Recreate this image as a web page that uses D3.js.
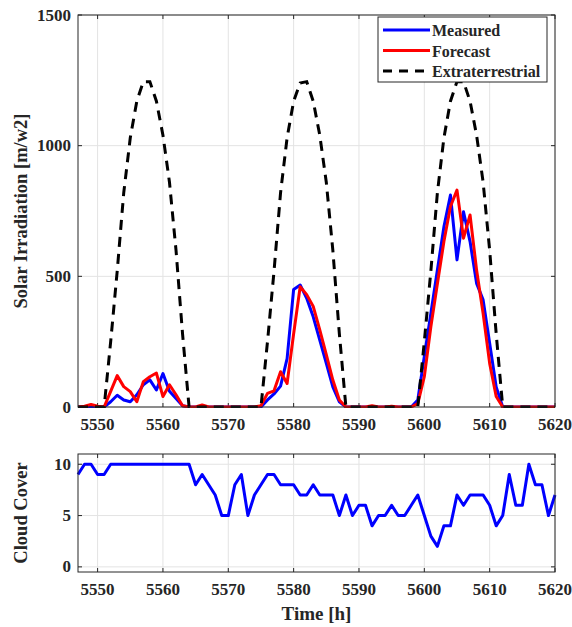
<!DOCTYPE html>
<html>
<head>
    <meta charset="utf-8">
    <style>
        body {
            margin: 0;
            background: white;
        }
        svg {
            display: block;
            font-family: 'Liberation Serif', 'Times New Roman', serif;
            font-weight: bold;
        }
        .grid line {
            stroke: #e3e3e3;
            stroke-width: 1;
        }
    </style>
</head>
<body>
    <svg width="572" height="627"></svg>
</body>
<script src="https://cdn.jsdelivr.net/npm/d3@7"></script>
<script>
    // hourly samples, 5547 .. 5620
    let hours = [5547, 5548, 5549, 5550, 5551, 5552, 5553, 5554, 5555, 5556, 5557, 5558, 5559, 5560,
        5561, 5562, 5563, 5564, 5565, 5566, 5567, 5568, 5569, 5570, 5571, 5572, 5573, 5574,
        5575, 5576, 5577, 5578, 5579, 5580, 5581, 5582, 5583, 5584, 5585, 5586, 5587, 5588,
        5589, 5590, 5591, 5592, 5593, 5594, 5595, 5596, 5597, 5598, 5599, 5600, 5601, 5602,
        5603, 5604, 5605, 5606, 5607, 5608, 5609, 5610, 5611, 5612, 5613, 5614, 5615, 5616,
        5617, 5618, 5619, 5620]

    let measured = [0, 0, 0, 0, 0, 20, 45, 27, 20, 47, 85, 104, 65, 128,
        60, 33, 5, 0, 0, 0, 0, 0, 0, 0, 0, 0, 0, 0,
        0, 27, 50, 80, 185, 450, 467, 416, 345, 256, 167, 77, 20, 0,
        0, 0, 0, 0, 0, 0, 0, 0, 0, 0, 27, 193, 358, 524,
        690, 811, 563, 747, 633, 473, 410, 244, 77, 0, 0, 0, 0, 0,
        0, 0, 0, 0]

    let forecast = [0, 3, 10, 3, 0, 60, 120, 78, 59, 20, 97, 116, 130, 40,
        85, 47, 5, 0, 0, 8, 0, 0, 0, 0, 0, 0, 0, 0,
        5, 52, 62, 135, 90, 280, 460, 430, 385, 295, 200, 103, 27, 0,
        0, 0, 0, 5, 0, 0, 3, 0, 0, 0, 13, 116, 307, 472,
        633, 767, 830, 646, 735, 524, 358, 167, 40, 0, 0, 0, 0, 0,
        0, 0, 0, 0]

    let extraterrestrial = [0, 0, 0, 0, 0, 250, 520, 820, 1030, 1170, 1245, 1245, 1170, 1040,
        860, 600, 280, 0, 0, 0, 0, 0, 0, 0, 0, 0, 0, 0,
        0, 250, 520, 820, 1030, 1170, 1240, 1245, 1170, 1040, 860, 600, 280, 0,
        0, 0, 0, 0, 0, 0, 0, 0, 0, 0, 0, 250, 520, 820,
        1030, 1170, 1245, 1245, 1170, 1040, 860, 600, 280, 0, 0, 0, 0, 0,
        0, 0, 0, 0]

    let cloudCover = [9, 10, 10, 9, 9, 10, 10, 10, 10, 10, 10, 10, 10, 10,
        10, 10, 10, 10, 8, 9, 8, 7, 5, 5, 8, 9, 5, 7,
        8, 9, 9, 8, 8, 8, 7, 7, 8, 7, 7, 7, 5, 7,
        5, 6, 6, 4, 5, 5, 6, 5, 5, 6, 7, 5, 3, 2,
        4, 4, 7, 6, 7, 7, 7, 6, 4, 5, 9, 6, 6, 10,
        8, 8, 5, 7]

    let xTicks = [5550, 5560, 5570, 5580, 5590, 5600, 5610, 5620]
    let irrTicks = [0, 500, 1000, 1500]
    let cloudTicks = [0, 5, 10]

    let seriesNames = ["Measured", "Forecast", "Extraterrestrial"]
    let seriesColors = ["#0000ff", "#ff0000", "#000000"]

    let svg = d3.select("svg")
    let left = 78, right = 555

    let x = d3.scaleLinear().domain([5547, 5620]).range([left, right])
    let yTop = d3.scaleLinear().domain([0, 1500]).range([407, 15])
    let yBot = d3.scaleLinear().domain([-0.5, 11]).range([572, 454])

    function panel(y, yTickVals, label) {
        let [y0, y1] = y.range()
        let g = svg.append("g")

        // grid
        g.append("g").attr("class", "grid")
            .selectAll("line").data(xTicks).join("line")
            .attr("x1", d => x(d)).attr("x2", d => x(d))
            .attr("y1", y1).attr("y2", y0)
        g.append("g").attr("class", "grid")
            .selectAll("line").data(yTickVals).join("line")
            .attr("x1", left).attr("x2", right)
            .attr("y1", d => y(d)).attr("y2", d => y(d))

        // inward ticks on all four sides
        let tk = 4
        let tickG = g.append("g").attr("stroke", "#262626").attr("stroke-width", 1)
        xTicks.forEach(t => {
            tickG.append("line").attr("x1", x(t)).attr("x2", x(t)).attr("y1", y0).attr("y2", y0 - tk)
            tickG.append("line").attr("x1", x(t)).attr("x2", x(t)).attr("y1", y1).attr("y2", y1 + tk)
        })
        yTickVals.forEach(t => {
            tickG.append("line").attr("x1", left).attr("x2", left + tk).attr("y1", y(t)).attr("y2", y(t))
            tickG.append("line").attr("x1", right).attr("x2", right - tk).attr("y1", y(t)).attr("y2", y(t))
        })

        g.append("g").selectAll("text").data(xTicks).join("text")
            .attr("x", d => x(d))
            .attr("y", y0 + 23)
            .attr("text-anchor", "middle")
            .attr("font-size", 17)
            .attr("fill", "#262626")
            .text(d => d)

        g.append("g").selectAll("text").data(yTickVals).join("text")
            .attr("x", left - 7)
            .attr("y", d => y(d) + 5.5)
            .attr("text-anchor", "end")
            .attr("font-size", 17)
            .attr("fill", "#262626")
            .text(d => d)

        g.append("text")
            .attr("transform", `translate(27,${(y0 + y1) / 2}) rotate(-90)`)
            .attr("text-anchor", "middle")
            .attr("font-size", 18.5)
            .attr("fill", "#262626")
            .text(label)

        return g
    }

    panel(yTop, irrTicks, "Solar Irradiation [m/w2]")
    panel(yBot, cloudTicks, "Cloud Cover")

    svg.append("clipPath").attr("id", "clipTop")
        .append("rect").attr("x", left).attr("y", 14).attr("width", right - left).attr("height", 394)

    let lineTop = d3.line()
        .x((d, i) => x(hours[i]))
        .y(d => yTop(d))

    let lines = svg.append("g").attr("clip-path", "url(#clipTop)")
    lines.append("path")
        .attr("d", lineTop(measured))
        .attr("fill", "none")
        .attr("stroke", seriesColors[0])
        .attr("stroke-width", 3)
        .attr("stroke-linejoin", "round")
    lines.append("path")
        .attr("d", lineTop(forecast))
        .attr("fill", "none")
        .attr("stroke", seriesColors[1])
        .attr("stroke-width", 3)
        .attr("stroke-linejoin", "round")
    lines.append("path")
        .attr("d", lineTop(extraterrestrial))
        .attr("fill", "none")
        .attr("stroke", seriesColors[2])
        .attr("stroke-width", 3)
        .attr("stroke-dasharray", "10,7")

    let lineBot = d3.line()
        .x((d, i) => x(hours[i]))
        .y(d => yBot(d))

    svg.append("path")
        .attr("d", lineBot(cloudCover))
        .attr("fill", "none")
        .attr("stroke", "#0000ff")
        .attr("stroke-width", 3)
        .attr("stroke-linejoin", "round")

    // axes boxes
    svg.append("rect")
        .attr("x", left).attr("y", yTop.range()[1])
        .attr("width", right - left).attr("height", yTop.range()[0] - yTop.range()[1])
        .attr("fill", "none").attr("stroke", "#262626").attr("stroke-width", 1)
    svg.append("rect")
        .attr("x", left).attr("y", yBot.range()[1])
        .attr("width", right - left).attr("height", yBot.range()[0] - yBot.range()[1])
        .attr("fill", "none").attr("stroke", "#262626").attr("stroke-width", 1)

    svg.append("text")
        .attr("x", (left + right) / 2)
        .attr("y", 620)
        .attr("text-anchor", "middle")
        .attr("font-size", 19)
        .attr("fill", "#262626")
        .text("Time [h]")

    // legend
    let legend = svg.append("g").attr("transform", "translate(378,17)")
    legend.append("rect")
        .attr("width", 169).attr("height", 65)
        .attr("fill", "white").attr("stroke", "#262626").attr("stroke-width", 1)
    let rows = legend.selectAll("g.row").data(seriesNames).join("g")
        .attr("class", "row")
        .attr("transform", (d, i) => `translate(0,${13 + i * 20.5})`)
    rows.append("line")
        .attr("x1", 5).attr("x2", 52)
        .attr("stroke", (d, i) => seriesColors[i])
        .attr("stroke-width", 3)
        .attr("stroke-dasharray", (d, i) => i == 2 ? "9,7" : null)
    rows.append("text")
        .attr("x", 54)
        .attr("y", 6)
        .attr("font-size", 16)
        .attr("fill", "#262626")
        .text(d => d)
</script>
</html>
